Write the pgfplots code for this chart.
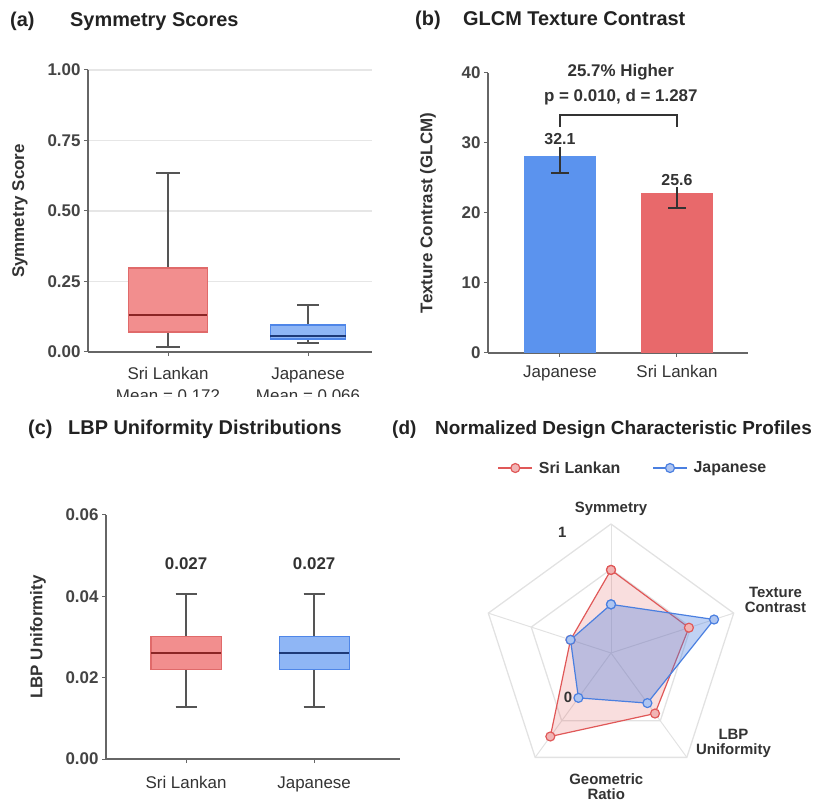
\documentclass[border=0pt]{standalone}
\usepackage{fontspec}
\setmainfont{Liberation Sans}
\usepackage{pgfplots}
\pgfplotsset{compat=1.18}
\usepgfplotslibrary{statistics,polar}
\newcommand\fs[1]{\fontsize{#1}{#1}\selectfont}
\definecolor{axgray}{HTML}{666666}
\definecolor{gridgray}{HTML}{E6E6E6}
\definecolor{tickgray}{HTML}{444444}
\definecolor{lblcol}{HTML}{333333}
\definecolor{titlecol}{HTML}{222222}
\definecolor{slfill}{HTML}{F28E8E}
\definecolor{sledge}{HTML}{E06A6A}
\definecolor{slmed}{HTML}{8B2525}
\definecolor{jpfill}{HTML}{8FB6F5}
\definecolor{jpedge}{HTML}{4F86E8}
\definecolor{jpmed}{HTML}{1E3A78}
\definecolor{jpbar}{HTML}{5B93EE}
\definecolor{slbar}{HTML}{E8696B}
\definecolor{whisk}{HTML}{555555}
\definecolor{slline}{HTML}{E05858}
\definecolor{jpline}{HTML}{4A7FE0}
\definecolor{radgrid}{HTML}{E2E2E2}
\tikzset{ttl/.style={anchor=base west, font=\fs{20}\bfseries, text=titlecol, inner sep=0}}
\pgfplotsset{
  base/.style={scale only axis, axis x line*=bottom, axis y line*=left,
    axis line style={draw=axgray, line width=1.4bp, -},
    tick style={draw=axgray, line width=1bp}, major tick length=4bp, tick align=outside,
    yticklabel style={font=\fs{17}\bfseries, text=tickgray},
    xticklabel style={font=\fs{17}, text=lblcol},
    label style={font=\fs{17}\bfseries, text=lblcol},
    ylabel style={anchor=center},
    clip=false, /pgf/number format/assume math mode=true},
  slbox/.style={fill=slfill, draw=sledge, line width=1.2bp, boxplot/draw direction=y,
    boxplot/every whisker/.style={draw=whisk, line width=1.5bp},
    boxplot/every median/.style={draw=slmed, line width=1.5bp}},
  jpbox/.style={fill=jpfill, draw=jpedge, line width=1.2bp, boxplot/draw direction=y,
    boxplot/every whisker/.style={draw=whisk, line width=1.5bp},
    boxplot/every median/.style={draw=jpmed, line width=1.5bp}},
}
\begin{document}
\begin{tikzpicture}
\path[use as bounding box] (0bp,0bp) rectangle (813bp,808bp);
% titles
\node[ttl] at (10bp,781bp) {(a)};
\node[ttl] at (70bp,781bp) {Symmetry Scores};
\node[ttl] at (415bp,782bp) {(b)};
\node[ttl] at (463bp,782bp) {GLCM Texture Contrast};
\node[ttl] at (28bp,373bp) {(c)};
\node[ttl] at (68bp,373bp) {LBP Uniformity Distributions};
\node[ttl, font=\fs{19}\bfseries] at (392bp,373bp) {(d)};
\node[ttl, font=\fs{19}\bfseries] at (435bp,373bp) {Normalized Design Characteristic Profiles};

% ---------- (a)
\begin{scope}
\clip (0bp,411bp) rectangle (410bp,808bp);
\begin{axis}[base, at={(88bp,456bp)}, anchor=south west, width=284bp, height=282bp,
  xmin=0.4286, xmax=2.457, ymin=0, ymax=1,
  ytick={0,0.25,0.5,0.75,1},
  yticklabel style={/pgf/number format/.cd, fixed, fixed zerofill, precision=2},
  xtick={1,2}, xticklabels={{Sri Lankan\\Mean = 0.172},{Japanese\\Mean = 0.066}},
  xticklabel style={align=center, font=\fontsize{17}{22}\selectfont, yshift=-8bp},
  ymajorgrids, grid style={draw=gridgray, line width=1.2bp},
  ylabel={Symmetry Score}, ylabel style={at={(axis description cs:-0.2394,0.5)}}]
\addplot[slbox, boxplot prepared={draw position=1, lower whisker=0.018, lower quartile=0.071,
  median=0.131, upper quartile=0.298, upper whisker=0.635, box extend=0.564, whisker extend=0.165}] coordinates {};
\addplot[jpbox, boxplot prepared={draw position=2, lower whisker=0.032, lower quartile=0.046,
  median=0.057, upper quartile=0.096, upper whisker=0.167, box extend=0.54, whisker extend=0.155}] coordinates {};
\end{axis}
\end{scope}

% ---------- (b)
\begin{axis}[base, at={(488bp,455bp)}, anchor=south west, width=260bp, height=280bp,
  xmin=0.385, xmax=2.607, ymin=0, ymax=40, ytick={0,10,20,30,40},
  xtick={1,2}, xticklabels={Japanese, Sri Lankan},
  xticklabel style={yshift=-5bp},
  ylabel={Texture Contrast (GLCM)}, ylabel style={at={(axis description cs:-0.2308,0.5)}}]
\addplot[ybar, bar shift=0pt, bar width=0.615, fill=jpbar, draw=none] coordinates {(1,28.1)};
\addplot[ybar, bar shift=0pt, bar width=0.615, fill=slbar, draw=none] coordinates {(2,22.9)};
\addplot[draw=none, mark=none, error bars/.cd, y dir=minus, y explicit,
  error bar style={draw=lblcol, line width=1.3bp}, error mark options={draw=lblcol, line width=1.3bp, mark size=9bp, rotate=90}]
  coordinates {(1,28.1) -= (0,2.4) (2,22.9) -= (0,2.2)};
\addplot[draw=none, mark=none, error bars/.cd, y dir=plus, y explicit, error mark=none,
  error bar style={draw=lblcol, line width=1.3bp}]
  coordinates {(1,28.1) += (0,1.3) (2,22.9) += (0,0.8)};
\addplot[draw=lblcol, line width=1.3bp, mark=none] coordinates {(1,32.3) (1,34.0) (2,34.0) (2,32.3)};
\node[font=\fs{16}\bfseries, text=lblcol] at (axis cs:1,30.6) {32.1};
\node[font=\fs{16}\bfseries, text=lblcol] at (axis cs:2,24.7) {25.6};
\node[font=\fs{17}\bfseries, text=lblcol] at (axis cs:1.52,40.1) {25.7\% Higher};
\node[font=\fs{17}\bfseries, text=lblcol] at (axis cs:1.52,36.5) {p = 0.010, d = 1.287};
\end{axis}

% ---------- (c)
\begin{axis}[base, at={(106bp,49bp)}, anchor=south west, width=294bp, height=244bp,
  xmin=0.375, xmax=2.67, ymin=0, ymax=0.06, ytick={0,0.02,0.04,0.06},
  yticklabel style={/pgf/number format/.cd, fixed, fixed zerofill, precision=2},
  scaled y ticks=false,
  xtick={1,2}, xticklabels={Sri Lankan, Japanese},
  xticklabel style={yshift=-10bp},
  ylabel={LBP Uniformity}, ylabel style={at={(axis description cs:-0.2313,0.5)}}]
\addplot[slbox, boxplot prepared={draw position=1, lower whisker=0.0128, lower quartile=0.0221,
  median=0.0261, upper quartile=0.0302, upper whisker=0.0406, box extend=0.547, whisker extend=0.164}] coordinates {};
\addplot[jpbox, boxplot prepared={draw position=2, lower whisker=0.0128, lower quartile=0.0221,
  median=0.0261, upper quartile=0.0302, upper whisker=0.0406, box extend=0.547, whisker extend=0.164}] coordinates {};
\node[font=\fs{17}\bfseries, text=lblcol] at (axis cs:1,0.048) {0.027};
\node[font=\fs{17}\bfseries, text=lblcol] at (axis cs:2,0.048) {0.027};
\end{axis}

% ---------- (d)
\begin{polaraxis}[at={(611bp,155bp)}, anchor=center, scale only axis, width=258bp, height=258bp,
  xmin=0, xmax=360, ymin=0, ymax=1, hide axis, clip=false,
  legend style={at={(axis description cs:0.593,1.217)}, anchor=center, draw=none, fill=none,
    font=\fs{16}\bfseries, text=lblcol, legend columns=2,
    /tikz/every even column/.append style={column sep=26bp},
    nodes={inner xsep=6bp}},
  legend image code/.code={\draw[mark repeat=2,mark phase=2] plot coordinates {(0bp,0bp)(17bp,0bp)(34bp,0bp)};}]
\addplot[draw=radgrid, line width=1.3bp, mark=none, forget plot] coordinates {(90,1)(18,1)(306,1)(234,1)(162,1)(90,1)};
\addplot[draw=radgrid, line width=1.3bp, mark=none, forget plot] coordinates {(90,0.65)(18,0.65)(306,0.65)(234,0.65)(162,0.65)(90,0.65)};
\addplot[draw=radgrid, line width=1bp, mark=none, forget plot] coordinates {(90,0)(90,1)};
\addplot[draw=radgrid, line width=1bp, mark=none, forget plot] coordinates {(18,0)(18,1)};
\addplot[draw=radgrid, line width=1bp, mark=none, forget plot] coordinates {(306,0)(306,1)};
\addplot[draw=radgrid, line width=1bp, mark=none, forget plot] coordinates {(234,0)(234,1)};
\addplot[draw=radgrid, line width=1bp, mark=none, forget plot] coordinates {(162,0)(162,1)};
\addplot[draw=slline, line width=1.2bp, fill=slline, fill opacity=0.2, mark=*, mark size=4.5bp,
  mark options={fill=slline!45!white, fill opacity=1, draw=slline, line width=1.2bp}]
  coordinates {(90,0.644)(18,0.635)(306,0.58)(234,0.80)(162,0.33)(90,0.644)};
\addlegendentry{Sri Lankan}
\addplot[draw=jpline, line width=1.2bp, fill=jpline, fill opacity=0.35, mark=*, mark size=4.5bp,
  mark options={fill=jpline!45!white, fill opacity=1, draw=jpline, line width=1.2bp}]
  coordinates {(90,0.377)(18,0.84)(306,0.48)(234,0.43)(162,0.33)(90,0.377)};
\addlegendentry{Japanese}
\node[font=\fs{15}\bfseries, text=lblcol] at (axis cs:90,1.12) {Symmetry};
\node[font=\fs{15}\bfseries, text=lblcol, align=center] at (axis cs:17.9,1.34) {Texture\\Contrast};
\node[font=\fs{15}\bfseries, text=lblcol, align=center] at (axis cs:323.6,1.18) {LBP\\Uniformity};
\node[font=\fs{15}\bfseries, text=lblcol, align=center] at (axis cs:268,1.04) {Geometric\\Ratio};
\node[font=\fs{15}\bfseries, text=lblcol] at (axis cs:112,1.01) {1};
\node[font=\fs{15}\bfseries, text=lblcol] at (axis cs:226,0.48) {0};
\end{polaraxis}
\end{tikzpicture}
\end{document}
